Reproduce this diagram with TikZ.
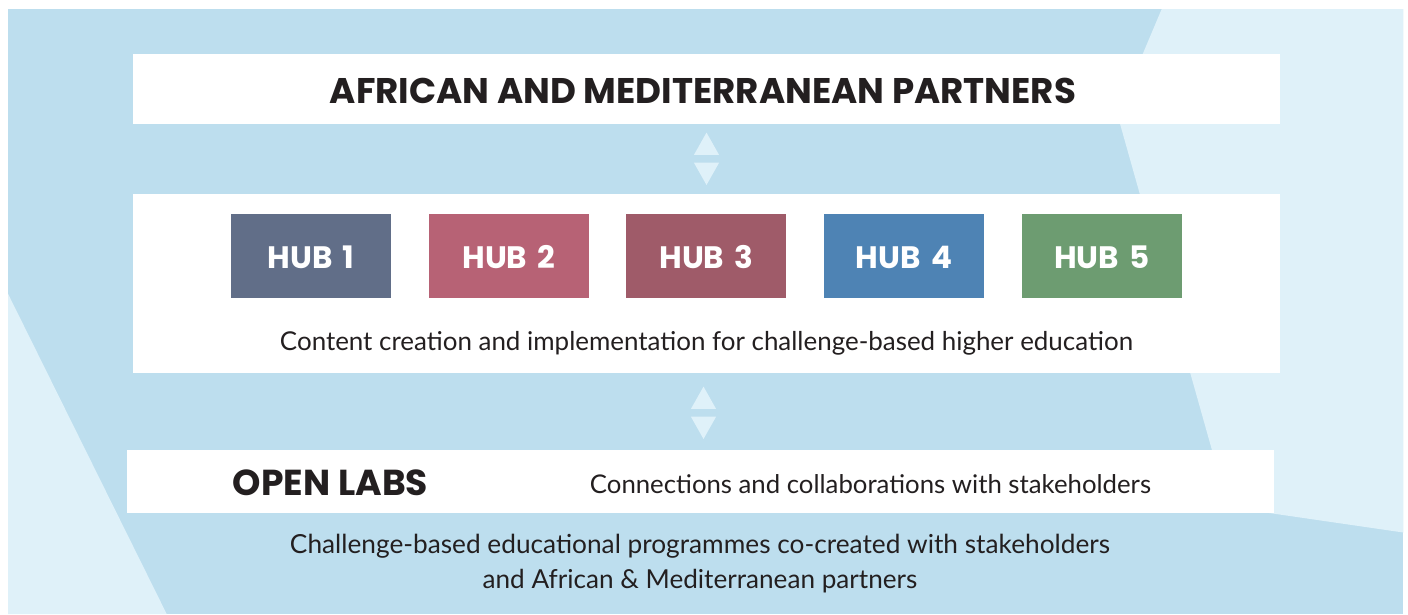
\documentclass[tikz,border=0pt]{standalone}
\usepackage{fontspec}
\setmainfont{Lato}
\newfontfamily\headfont{Poppins}
\usetikzlibrary{calc}
\definecolor{bgblue}{HTML}{BDDEEE}
\definecolor{bglight}{HTML}{DFF1F9}
\definecolor{ink}{HTML}{231F20}
\definecolor{hubA}{HTML}{616E88}
\definecolor{hubB}{HTML}{B76275}
\definecolor{hubC}{HTML}{9F5B69}
\definecolor{hubD}{HTML}{4E83B4}
\definecolor{hubE}{HTML}{6D9C71}
\newcommand\fitto[2]{\resizebox{#1}{!}{#2}}
\tikzset{
  panel/.style={fill=white, draw=none, inner sep=0pt, minimum width=1147pt},
  hubbox/.style={draw=none, inner sep=0pt, minimum width=160pt, minimum height=83.7pt,
    text=white, font=\headfont\bfseries\fontsize{31}{37}\selectfont,
    text height=25pt, text depth=0pt},
  txt/.style={text=ink, anchor=base, inner sep=0pt},
  dblarrow/.pic={
    \fill[bglight] (-12.6,-3.85) -- (12.6,-3.85) -- (0,-26.2) -- cycle;
    \fill[bglight] (-12.6,3.85) -- (12.6,3.85) -- (0,26.2) -- cycle;
  }
}
\begin{document}
\begin{tikzpicture}[x=1pt,y=-1pt]
\useasboundingbox (0,0) rectangle (1408,614);
\fill[white] (0,0) rectangle (1408,614);
\fill[bgblue] (8,9) rectangle (1403.3,614);
\fill[bglight] (1161.7,9) -- (1403.3,9) -- (1403.3,532.5) -- (1228,507) -- (1117.3,114.2) -- cycle;
\fill[bglight] (8,293.7) -- (166.7,614) -- (8,614) -- cycle;

% panels
\node[panel, minimum height=70pt] (partners) at (706.5,89) {};
\node[panel, minimum height=179pt] (hubs) at (706.5,283.5) {};
\node[panel, minimum height=62.7pt] (labs) at (700.5,481.35) {};

% double arrows between panels
\coordinate (m1) at ($(partners.south)!0.5!(hubs.north)$);
\coordinate (m2) at ($(hubs.south)!0.5!(labs.north)$);
\pic at ($(m1)+(0,-0.2)$) {dblarrow};
\pic at ($(m2)+(0,1.3)$) {dblarrow};

% texts
\node[txt] (ptitle) at (703,103.3) {\fitto{746pt}{\headfont\bfseries AFRICAN AND MEDITERRANEAN PARTNERS}};

\node[hubbox, fill=hubA] (hub1) at (311,255.85) {HUB\,\,1};
\node[hubbox, fill=hubB] (hub2) at (508.9,255.85) {HUB\,\,2};
\node[hubbox, fill=hubC] (hub3) at (706.4,255.85) {HUB\,\,3};
\node[hubbox, fill=hubD] (hub4) at (904,255.85) {HUB\,\,4};
\node[hubbox, fill=hubE] (hub5) at (1102,255.85) {HUB\,\,5};

\node[txt] (content) at (706.5,350) {\fitto{853pt}{Content creation and implementation for challenge-based higher education}};

\node[txt] (openlabs) at (330.5,495) {\fitto{195pt}{\headfont\bfseries OPEN LABS}};
\node[txt] (connect) at (870.5,493) {\fitto{561pt}{Connections and collaborations with stakeholders}};

\node[txt] (prog1) at (700,553) {\fitto{820pt}{Challenge-based educational programmes co-created with stakeholders}};
\node[txt] (prog2) at (700,588) {\fitto{434.6pt}{and African \& Mediterranean partners}};
\end{tikzpicture}
\end{document}
